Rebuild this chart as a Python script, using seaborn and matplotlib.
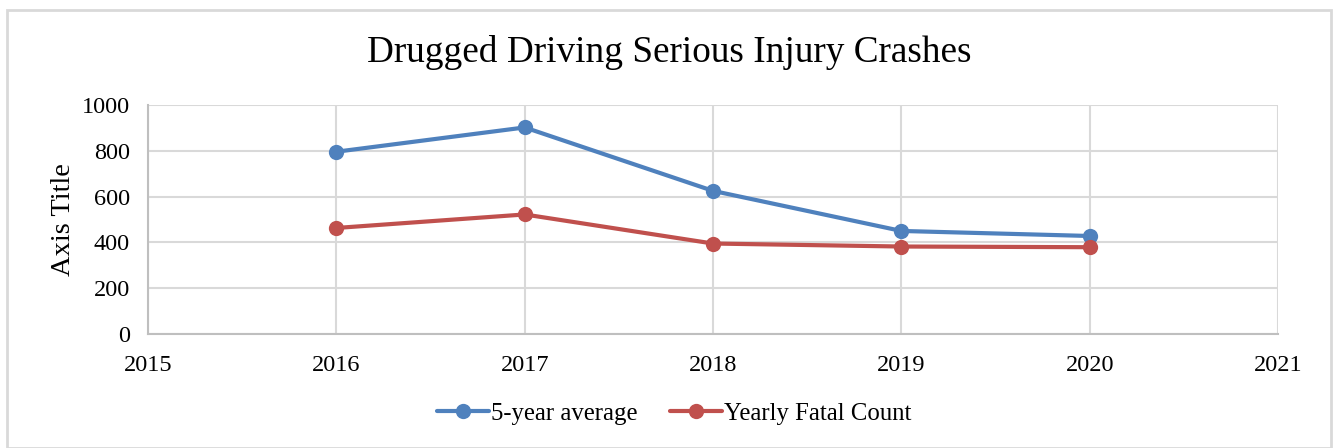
import matplotlib
matplotlib.use('Agg')
import matplotlib.pyplot as plt
import seaborn as sns
import pandas as pd
from matplotlib.patches import Rectangle

years = [2016, 2017, 2018, 2019, 2020]
five_year_avg = [796, 902, 625, 450, 428]
yearly_fatal = [463, 522, 395, 382, 379]
series_names = ['5-year average', 'Yearly Fatal Count']

df = pd.DataFrame({
    'year': years * 2,
    'value': five_year_avg + yearly_fatal,
    'series': [series_names[0]] * len(years) + [series_names[1]] * len(years),
})

sns.set_style('white')
plt.rcParams['font.family'] = ['Liberation Serif', 'DejaVu Serif']
plt.rcParams['text.color'] = 'black'
plt.rcParams['axes.labelcolor'] = 'black'
plt.rcParams['xtick.color'] = 'black'
plt.rcParams['ytick.color'] = 'black'

fig = plt.figure(figsize=(13.35, 4.48), dpi=100)
ax = fig.add_axes([0.1109, 0.2545, 0.8464, 0.5111])

sns.lineplot(data=df, x='year', y='value', hue='series',
             palette=['#4f81bd', '#c0504d'], marker='o', markersize=11,
             markeredgewidth=0, linewidth=3, ax=ax, legend=True)

ax.set_xlim(2015, 2021)
ax.set_ylim(0, 1000)
ax.set_xticks(range(2015, 2022))
ax.set_yticks(range(0, 1001, 200))
ax.grid(True, color='#d9d9d9', linewidth=1.5)
ax.set_axisbelow(True)
for side in ['top', 'right']:
    ax.spines[side].set_visible(False)
for side in ['left', 'bottom']:
    ax.spines[side].set_color('#bfbfbf')
    ax.spines[side].set_linewidth(1.5)
ax.tick_params(axis='x', labelsize=17.5, length=0, pad=15)
ax.tick_params(axis='y', labelsize=17.5, length=0, pad=13)
ax.set_xlabel('')
ax.set_ylabel('Axis Title', fontsize=20.5, labelpad=4)

fig.text(0.5015, 0.883, 'Drugged Driving Serious Injury Crashes', fontsize=26.8,
         ha='center', va='center')

handles, labels = ax.get_legend_handles_labels()
ax.legend_.remove()
fig.legend(handles, labels, loc='center', bbox_to_anchor=(0.505, 0.076), ncol=2,
           frameon=False, fontsize=17.8, handlelength=2.1, columnspacing=1.3,
           handletextpad=0.1)

fig.patches.append(Rectangle((0.005, 0.0), 0.992, 0.978, transform=fig.transFigure,
                             fill=False, edgecolor='#d9d9d9', linewidth=2))

fig.savefig('out.png', dpi=100)
